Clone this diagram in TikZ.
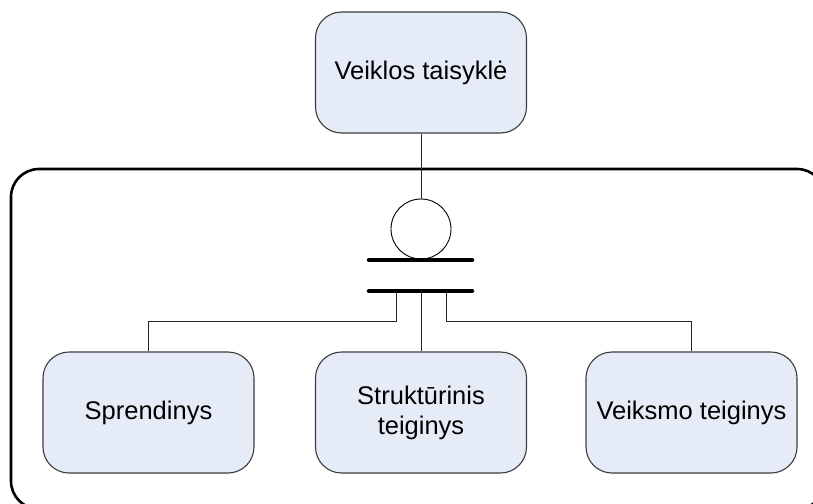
\documentclass[tikz,border=0pt]{standalone}
\usepackage{fontspec}
\setmainfont{Liberation Sans}
\definecolor{boxfill}{RGB}{230,236,247}
\definecolor{boxline}{RGB}{60,60,60}
\begin{document}
\begin{tikzpicture}[x=1pt,y=-1pt,
  rulebox/.style={draw=boxline, line width=1.1pt, fill=boxfill,
    rounded corners=26pt, minimum width=211pt, minimum height=121pt,
    inner sep=0pt, align=center,
    font=\fontsize{25.5}{30}\selectfont},
  link/.style={draw=black!85, line width=1pt},
  bar/.style={line width=4.5pt, line cap=round}]
  \useasboundingbox (0,0) rectangle (813,503);
  % outer frame (runs past the right and bottom edges)
  \begin{scope}
    \clip (0,0) rectangle (813,503);
    \draw[line width=2.6pt, rounded corners=28pt] (11,169) rectangle (825,509);
  \end{scope}
  % boxes
  \node[rulebox] (rule) at (421,72.5) {Veiklos taisyklė};
  \node[rulebox] (dec) at (148.5,412.5) {Sprendinys};
  \node[rulebox] (str) at (421,412.5) {Struktūrinis\\teiginys};
  \node[rulebox] (act) at (691.5,412.5) {Veiksmo teiginys};
  % junction: circle and two bars
  \node[draw, line width=0.9pt, circle, minimum size=60pt, inner sep=0pt] (ring) at (421,229) {};
  \coordinate (b1l) at (369,260);
  \coordinate (b1r) at (472,260);
  \coordinate (b2l) at (369,291);
  \coordinate (b2r) at (472,291);
  \coordinate (tl) at (396,291);
  \coordinate (tc) at (421,291);
  \coordinate (tr) at (446,291);
  \draw[bar] (b1l) -- (b1r);
  \draw[bar] (b2l) -- (b2r);
  % connectors
  \draw[link] (rule.south) -- (ring.north);
  \draw[link] (tl) -- ++(0,30) -| (dec.north);
  \draw[link] (tc) -- (str.north);
  \draw[link] (tr) -- ++(0,30) -| (act.north);
\end{tikzpicture}
\end{document}
